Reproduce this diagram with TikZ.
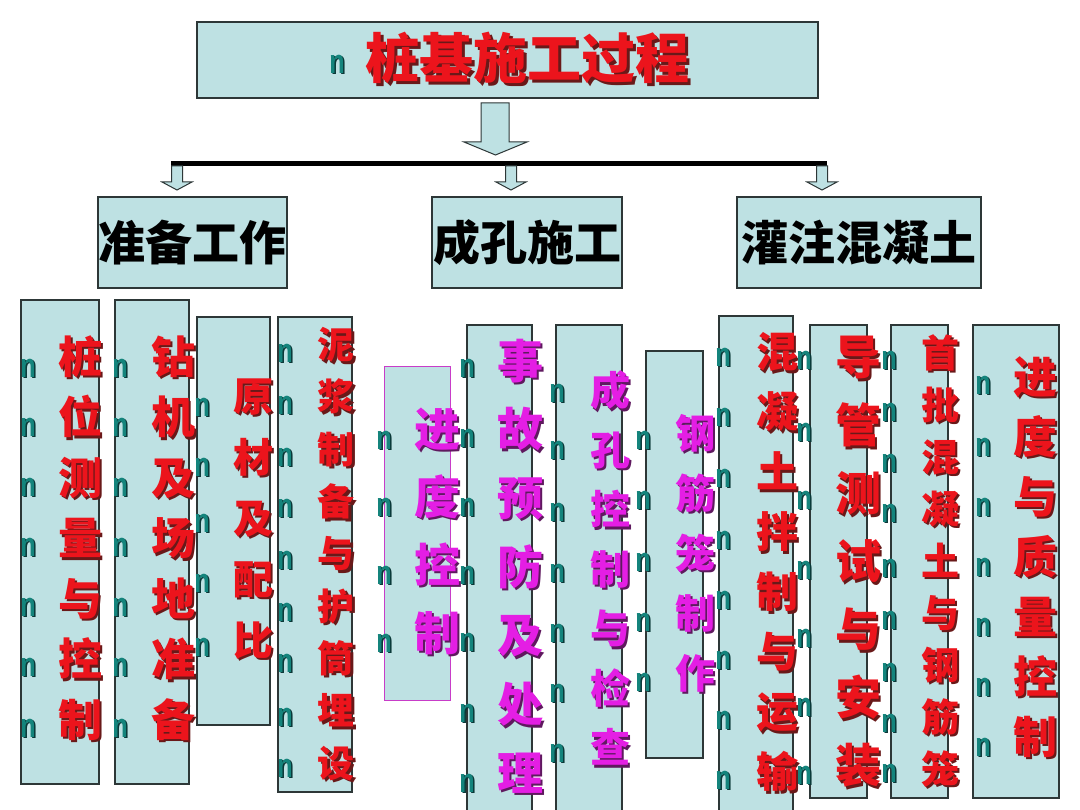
\documentclass[tikz,border=0pt]{standalone}
\usepackage{fontspec}
\newfontfamily\cjk{Noto Sans CJK SC}
\newfontfamily\nfont{Liberation Sans}
\definecolor{boxfill}{RGB}{190,225,227}
\definecolor{boxline}{RGB}{45,55,55}
\definecolor{txr}{RGB}{236,20,28}
\definecolor{txrshadow}{RGB}{105,25,25}
\definecolor{txm}{RGB}{228,30,228}
\definecolor{txmshadow}{RGB}{95,25,95}
\definecolor{teal1}{RGB}{20,132,124}
\definecolor{teal1shadow}{RGB}{10,55,55}
\definecolor{magline}{RGB}{200,60,200}
\newcommand\nchar{\scalebox{0.74}[1]{n}}
% #1 name, #2 x, #3 y, #4 size, #5 skip, #6 colour, #7 text
\newcommand\coltext[7]{%
  \node[coltxt,text=#6shadow,font=\cjk\bfseries\fontsize{#4}{#5}\selectfont] (#1s) at ({#2+2.5},{#3+2.5}) {#7};
  \node[coltxt,text=#6,font=\cjk\bfseries\fontsize{#4}{#5}\selectfont] (#1) at (#2,#3) {#7};}
% #1 prefix, #2 x, #3 list of y
\newcommand\nmarks[3]{%
  \foreach \yy [count=\k] in {#3} {
    \node[nmark,text=teal1shadow] (#1s\k) at ({#2+1.5},{\yy+1.5}) {\nchar};
    \node[nmark] (#1\k) at (#2,\yy) {\nchar};}}
% [#1 options] #2 name, #3 x1, #4 y1, #5 x2, #6 y2
\newcommand\colbox[6][]{%
  \node[colbox,#1,minimum width={#5-#3},minimum height={#6-#4}] (#2) at ({(#3+#5)/2},{(#4+#6)/2}) {};}
\newcommand\smallarrow[2]{%
  \draw[arrowshape] ({#2-5.5},166) -- ({#2+5.5},166) -- ({#2+5.5},182) -- ({#2+15},182)
     -- (#2,190) -- ({#2-15},182) -- ({#2-5.5},182) -- cycle;
  \coordinate (#1) at (#2,190);}
\begin{document}
\begin{tikzpicture}[x=1pt,y=-1pt,
  colbox/.style={draw=boxline,fill=boxfill,line width=1.3pt,inner sep=0pt,outer sep=0pt},
  coltxt/.style={align=center,inner sep=0pt,anchor=center},
  nmark/.style={font=\nfont\bfseries\fontsize{34}{34}\selectfont,inner sep=0pt,text=teal1,anchor=center},
  arrowshape/.style={draw=boxline,fill=boxfill,line width=1pt,line join=miter},
  l2txt/.style={font=\cjk\bfseries\fontsize{47}{50}\selectfont,text=black}]
\useasboundingbox (0,0) rectangle (1080,810);
\fill[white] (0,0) rectangle (1080,810);

% title
\colbox{title}{197}{22}{818}{98}
\node[coltxt,text=txrshadow,font=\cjk\bfseries\fontsize{54}{60}\selectfont] (ttls) at (530,61) {桩基施工过程};
\node[coltxt,text=txr,font=\cjk\bfseries\fontsize{54}{60}\selectfont] (ttl) at (527,58) {桩基施工过程};
\node[nmark,text=teal1shadow] (tns) at (338.5,65.5) {\nchar};
\node[nmark] (tn) at (337,64) {\nchar};

% big arrow
\draw[arrowshape] (481,103) -- (509,103) -- (509,142) -- (527,142) -- (495.5,155)
   -- (464,142) -- (481,142) -- cycle;

% horizontal bar
\coordinate (hl) at (171,163.5);
\coordinate (hr) at (827,163.5);
\draw[line width=5.5pt] (hl) -- (hr);

\smallarrow{a1}{177}
\smallarrow{a2}{511}
\smallarrow{a3}{822}

% level 2
\colbox{prep}{98}{197}{287}{288}
\colbox{hole}{432}{197}{622}{288}
\colbox{pour}{737}{197}{981}{288}
\node[l2txt] (prept) at (prep) {准备工作};
\node[l2txt] (holet) at (hole) {成孔施工};
\node[l2txt] (pourt) at (pour) {灌注混凝土};

% columns
\colbox{b1}{21}{300}{99}{784}
\colbox{b2}{115}{300}{189}{784}
\colbox{b3}{197}{317}{270}{725}
\colbox{b4}{278}{317}{352}{792}
\colbox[draw=magline,line width=1pt]{b5}{384}{367}{450}{700}
\colbox{b6}{467}{325}{532}{816}
\colbox{b7}{556}{325}{622}{816}
\colbox{b8}{646}{351}{703}{758}
\colbox{b9}{719}{316}{793}{816}
\colbox{b10}{810}{325}{867}{798}
\colbox{b11}{891}{325}{948}{798}
\colbox{b12}{973}{325}{1059}{798}

\coltext{c1}{80}{538}{44}{60.5}{txr}{桩\\位\\测\\量\\与\\控\\制}
\coltext{c2}{173}{538}{44}{60.5}{txr}{钻\\机\\及\\场\\地\\准\\备}
\coltext{c3}{253}{519}{40}{61}{txr}{原\\材\\及\\配\\比}
\coltext{c4}{336}{554}{37}{52.3}{txr}{泥\\浆\\制\\备\\与\\护\\筒\\埋\\设}
\coltext{c5}{437}{531}{46}{68}{txm}{进\\度\\控\\制}
\coltext{c6}{520}{566}{46}{68.7}{txm}{事\\故\\预\\防\\及\\处\\理}
\coltext{c7}{610}{568}{40}{59.5}{txm}{成\\孔\\控\\制\\与\\检\\查}
\coltext{c8}{695}{553}{40}{60}{txm}{钢\\筋\\笼\\制\\作}
\coltext{c9}{777}{562}{42}{60}{txr}{混\\凝\\土\\拌\\制\\与\\运\\输}
\coltext{c10}{858}{562}{46}{68}{txr}{导\\管\\测\\试\\与\\安\\装}
\coltext{c11}{940}{561}{38}{52}{txr}{首\\批\\混\\凝\\土\\与\\钢\\筋\\笼}
\coltext{c12}{1035}{557}{44}{60}{txr}{进\\度\\与\\质\\量\\控\\制}

\nmarks{na}{28}{368,427,487,547,607,667,728}
\nmarks{nb}{120}{368,427,487,547,607,667,728}
\nmarks{nc}{202}{407,467,523,583,647}
\nmarks{nd}{285}{353,405,457,508,560,612,663,717,768}
\nmarks{ne}{384}{440,507,575,643}
\nmarks{nf}{467}{368,438,507,575,642,713,783}
\nmarks{ng}{557}{393,450,512,573,633,693,753}
\nmarks{nh}{643}{440,500,562,622,682}
\nmarks{ni}{723}{357,417,478,540,600,660,720,780}
\nmarks{nj}{804}{360,432,500,570,638,707,775}
\nmarks{nk}{889}{360,412,463,513,568,620,672,723,773}
\nmarks{nl}{983}{385,447,507,567,627,687,747}
\end{tikzpicture}
\end{document}
